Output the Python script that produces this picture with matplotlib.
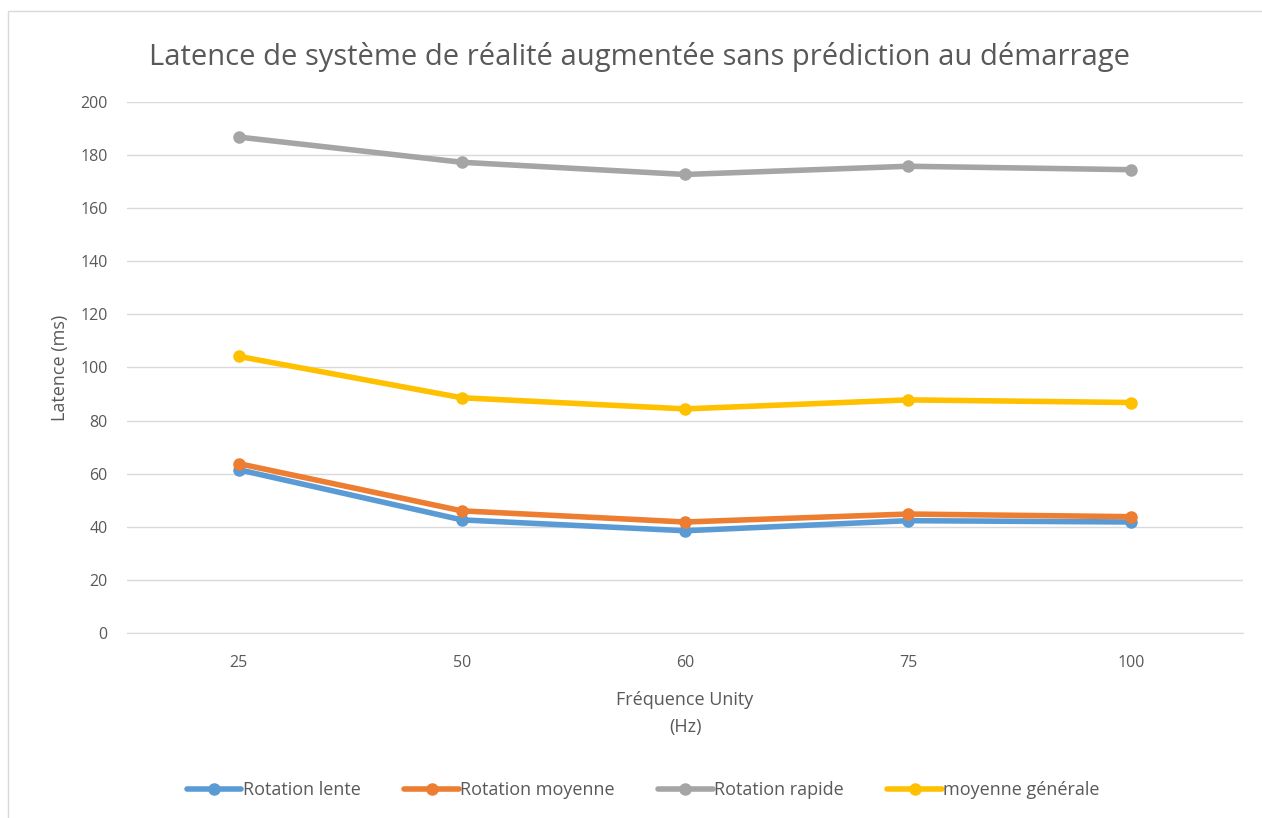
import matplotlib.pyplot as plt
import numpy as np

# Latency measurements (ms) per Unity frame rate
frequences = ["25", "50", "60", "75", "100"]
rotation_lente = [61.5, 42.6, 38.5, 42.3, 41.8]
rotation_moyenne = [63.8, 46.0, 41.8, 44.8, 43.8]
rotation_rapide = [186.8, 177.3, 172.7, 175.8, 174.5]
moyenne_generale = [104.2, 88.6, 84.4, 87.8, 86.8]

series = [
    ("Rotation lente", rotation_lente, "#5B9BD5"),
    ("Rotation moyenne", rotation_moyenne, "#ED7D31"),
    ("Rotation rapide", rotation_rapide, "#A5A5A5"),
    ("moyenne générale", moyenne_generale, "#FFC000"),
]

plt.rcParams['font.family'] = ['Open Sans', 'DejaVu Sans']

fig = plt.figure(figsize=(12.62, 8.18), dpi=100)
ax = fig.add_axes([0.1006, 0.2262, 0.8844, 0.6491])

# light chart frame
fig.patches.append(plt.Rectangle((0.006, -0.01), 1.2, 0.996, transform=fig.transFigure,
                                 fill=False, edgecolor="#D9D9D9", linewidth=1.0))

x = np.arange(len(frequences))
for label, vals, color in series:
    ax.plot(x, vals, color=color, linewidth=4.0, marker="o", markersize=8,
            label=label, solid_capstyle="round")

ax.set_xlim(-0.5, len(frequences) - 0.5)
ax.set_ylim(0, 200)
ax.set_yticks(range(0, 201, 20))
ax.set_xticks(x)
ax.set_xticklabels(frequences)
ax.yaxis.grid(True, color="#D9D9D9", linewidth=1.0)
ax.set_axisbelow(True)
for s in ["top", "right", "left"]:
    ax.spines[s].set_visible(False)
ax.spines["bottom"].set_color("#D9D9D9")
ax.tick_params(axis="both", length=0, labelsize=11.5, colors="#595959", pad=14)
ax.tick_params(axis="x", pad=16)

ax.set_ylabel("Latence (ms)", fontsize=13, color="#595959", labelpad=8)
ax.set_xlabel("Fréquence Unity\n(Hz)", fontsize=13, color="#595959", labelpad=14,
              linespacing=1.7)

fig.text(0.507, 0.93, "Latence de système de réalité augmentée sans prédiction au démarrage",
         ha="center", va="center", fontsize=21, color="#595959")

leg = fig.legend(loc="center", bbox_to_anchor=(0.51, 0.034), ncol=4, frameon=False,
                 fontsize=13, handlelength=3.0, handletextpad=0.1, columnspacing=2.4)
for t in leg.get_texts():
    t.set_color("#595959")

fig.savefig("out.png", dpi=100)
